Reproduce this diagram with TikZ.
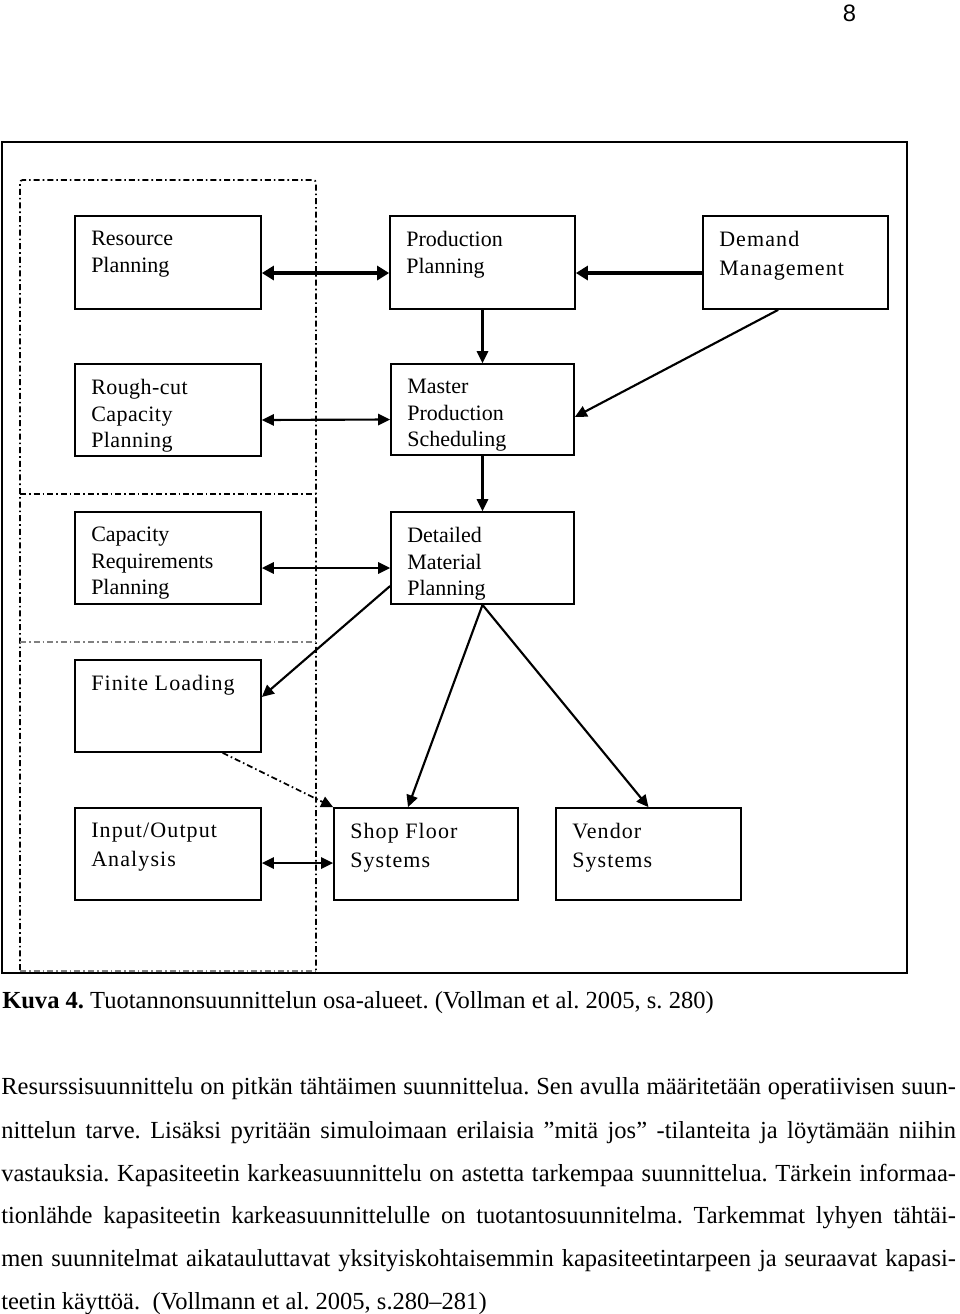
\documentclass[tikz,border=0pt]{standalone}
\usepackage{fontspec}
\setmainfont{Liberation Serif}
\newfontfamily\pagefont{Liberation Sans}
\usetikzlibrary{arrows.meta}
\frenchspacing
\newcommand\mybox[5]{%
  \node[boxshape, minimum width={(#4-#2)*0.75pt}, minimum height={(#5-#3)*0.75pt}]
    (#1) at ({(#2+#4)/2},{(#3+#5)/2}) {};}
\newcommand\jl[1]{\hbox to 716pt{#1}}
\tikzset{
  boxshape/.style={draw, line width=1.3pt, inner sep=0pt},
  btxt/.style={inner sep=0pt, align=left, anchor=north west,
    font=\fontsize{16.5}{19.9}\selectfont},
  btxtw/.style={inner sep=0pt, align=left, anchor=north west,
    font=\fontsize{16.5}{21.75}\selectfont\addfontfeature{LetterSpace=5}},
  btxtr/.style={inner sep=0pt, align=left, anchor=north west,
    font=\fontsize{16.5}{19.9}\selectfont\addfontfeature{LetterSpace=2}},
  arr/.style={-{Triangle[length=9pt,width=8.5pt]}, line width=1.6pt},
  darr/.style={{Triangle[length=9pt,width=8.5pt]}-{Triangle[length=9pt,width=8.5pt]}, line width=1.6pt},
  tarr/.style={-{Triangle[length=9pt,width=10.5pt]}, line width=2.8pt},
  tdarr/.style={{Triangle[length=9pt,width=10.5pt]}-{Triangle[length=9pt,width=10.5pt]}, line width=2.8pt},
  dd/.style={line width=1.3pt, dash pattern=on 4.5pt off 2.25pt on 1.2pt off 2.25pt},
  ddthin/.style={line width=0.8pt, gray, dash pattern=on 4.5pt off 2.25pt on 1.2pt off 2.25pt},
  body/.style={inner sep=0pt, anchor=base west, font=\fontsize{18.4}{22}\selectfont},
}
\begin{document}
\begin{tikzpicture}[x=0.75pt, y=-0.75pt]
\useasboundingbox (0,0) rectangle (960,1314);
% page number
\node[inner sep=0pt, font=\pagefont\fontsize{17.8}{20}\selectfont] (pg) at (849.5,13.5) {8};
% outer frame
\draw[line width=1.4pt] (2,142) rectangle (907,973);
% dash-dot regions
\draw[dd, rounded corners=2pt] (20,970) -- (20,180) -- (316,180) -- (316,970);
\draw[dd] (20,494) -- (316,494);
\draw[ddthin] (20,642) -- (316,642);
\draw[ddthin] (20,971) -- (316,971);
% boxes
\mybox{rp}{75}{216}{261}{309}
\mybox{pp}{390}{216}{575}{309}
\mybox{dm}{703}{216}{888}{309}
\mybox{rc}{75}{364}{261}{456}
\mybox{mps}{391}{364}{574}{455}
\mybox{crp}{75}{512}{261}{604}
\mybox{dmp}{391}{512}{574}{604}
\mybox{fl}{75}{660}{261}{752}
\mybox{io}{75}{808}{261}{900}
\mybox{sf}{334}{808}{518}{900}
\mybox{vs}{556}{808}{741}{900}
% texts
\node[btxt] (rpt) at (91,231) {Resource\\Planning};
\node[btxt] (ppt) at (406,231) {Production\\Planning};
\node[btxtw] (dmt) at (719,231) {Demand\\Management};
\node[btxtr] (rct) at (91,379) {Rough-cut\\Capacity\\Planning};
\node[btxt] (mpst) at (407,379) {Master\\Production\\Scheduling};
\node[btxt] (crpt) at (91,527) {Capacity\\Requirements\\Planning};
\node[btxt] (dmpt) at (407,527) {Detailed\\Material\\Planning};
\node[btxtw] (flt) at (91,675) {Finite Loading};
\node[btxtw] (iot) at (91,823) {Input/Output\\Analysis};
\node[btxtw] (sft) at (350,823) {Shop Floor\\Systems};
\node[btxtw] (vst) at (572,823) {Vendor\\Systems};
% connectors
\draw[tdarr] ([yshift=-7.9pt]rp.east) -- ([yshift=-7.9pt]pp.west);
\draw[tarr] ([yshift=-7.9pt]dm.west) -- ([yshift=-7.9pt]pp.east);
\draw[arr] (pp.south) -- (mps.north);
\draw[darr] ([yshift=-7.5pt]rc.east) -- ([yshift=-7.5pt]mps.west);
\draw[arr] ([xshift=-13pt]dm.south) -- ([yshift=-5.6pt]mps.east);
\draw[arr] (mps.south) -- (dmp.north);
\draw[darr] ([yshift=-7.5pt]crp.east) -- ([yshift=-7.5pt]dmp.west);
\draw[arr] ([yshift=-21pt]dmp.west) -- ([yshift=6.8pt]fl.east);
\draw[arr] (dmp.south) -- ([xshift=-13.5pt]sf.north);
\draw[arr] (dmp.south) -- (vs.north);
\draw[dd, -{Triangle[length=9pt,width=8.5pt]}] ([xshift=41pt]fl.south) -- (sf.north west);
\draw[darr] ([yshift=-6.8pt]io.east) -- ([yshift=-6.8pt]sf.west);
% caption
\node[body] (cap) at (2,1008) {\textbf{Kuva 4.} Tuotannonsuunnittelun osa-alueet. (Vollman et al. 2005, s. 280)};
% body text
\node[body] (b1) at (1,1094) {\jl{Resurssisuunnittelu on pitkän tähtäimen suunnittelua. Sen avulla määritetään operatiivisen suun-}};
\node[body] (b2) at (1,1138) {\jl{nittelun tarve. Lisäksi pyritään simuloimaan erilaisia ”mitä jos” -tilanteita ja löytämään niihin}};
\node[body] (b3) at (1,1181) {\jl{vastauksia. Kapasiteetin karkeasuunnittelu on astetta tarkempaa suunnittelua. Tärkein informaa-}};
\node[body] (b4) at (1,1223) {\jl{tionlähde kapasiteetin karkeasuunnittelulle on tuotantosuunnitelma. Tarkemmat lyhyen tähtäi-}};
\node[body] (b5) at (1,1266) {\jl{men suunnitelmat aikatauluttavat yksityiskohtaisemmin kapasiteetintarpeen ja seuraavat kapasi-}};
\node[body] (b6) at (1,1309) {teetin käyttöä.\ \ (Vollmann et al. 2005, s.280–281)};
\end{tikzpicture}
\end{document}
